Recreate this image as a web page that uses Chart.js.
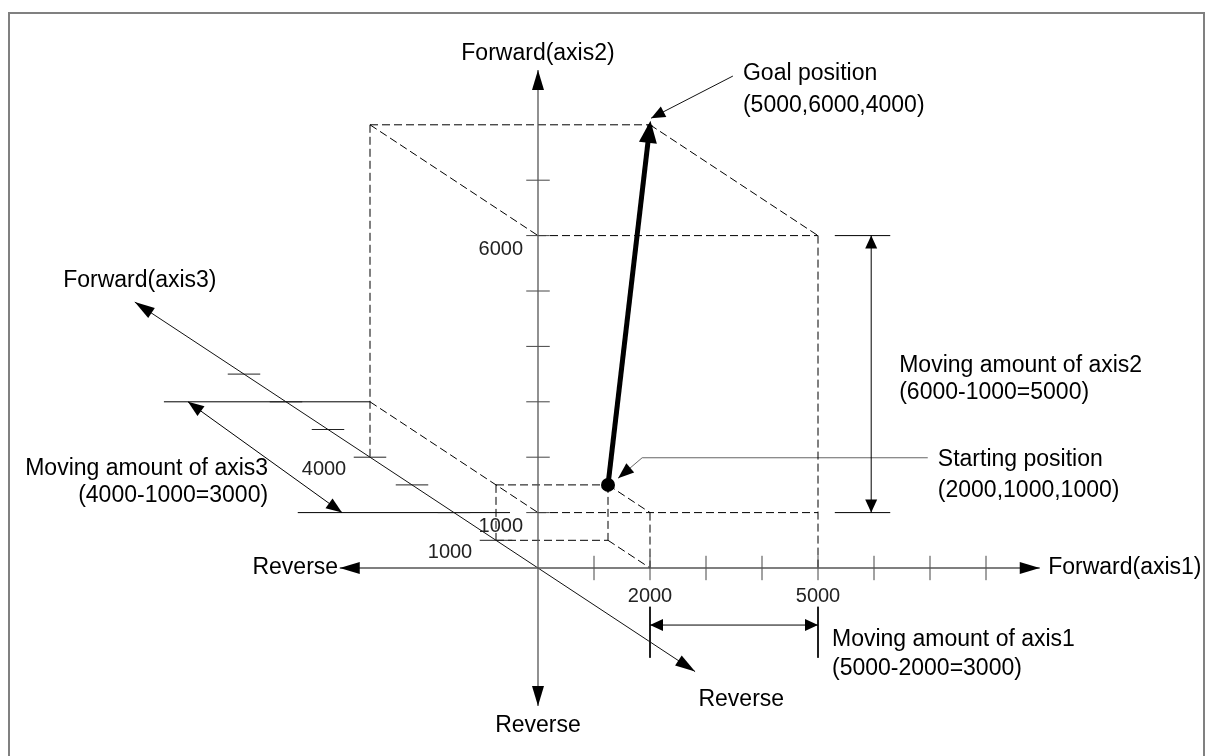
<!DOCTYPE html>
<html>
<head>
<meta charset="utf-8">
<script src="https://cdn.jsdelivr.net/npm/chart.js@4.4.1/dist/chart.umd.min.js"></script>
<style>
  html, body { margin: 0; padding: 0; background: #fff; }
  #wrap { width: 1208px; height: 756px; }
</style>
</head>
<body>
<div id="wrap"><canvas id="my-chart" width="1208" height="756"></canvas></div>
<script>
// values in position units (pulses)
const axis1Ticks = [1000, 2000, 3000, 4000, 5000, 6000, 7000, 8000];
const axis2Ticks = [1000, 2000, 3000, 4000, 5000, 6000, 7000];
const axis3Ticks = [1000, 2000, 3000, 4000, 5000, 6000, 7000];
const axis1Labels = [2000, 5000];
const axis2Labels = [1000, 6000];
const axis3Labels = [1000, 4000];
const startPos = [2000, 1000, 1000];
const goalPos = [5000, 6000, 4000];
const axis1Range = [-3540, 8960];
const axis2Range = [-2490, 8990];
const axis3Range = [-3740, 9600];

// oblique projection: axis3 goes up-left on the page
const K3X = -0.75;
const K3Y = 0.5;
function proj(a1, a2, a3) {
  return { x: (a1 + K3X * a3) / 1000, y: (a2 + K3Y * a3) / 1000 };
}

const FONT = '"Liberation Sans", Arial, sans-serif';
const datasets = [];

function seg(points, o = {}) {
  datasets.push({
    data: points,
    showLine: true,
    borderColor: o.color || "#000",
    borderWidth: o.width || 1,
    borderDash: o.dash ? [8, 4] : [],
    borderCapStyle: "butt",
    pointRadius: 0,
    headStart: o.headStart || null,
    headEnd: o.headEnd || null,
  });
}

const axisHead = { len: 20, half: 6 };
const smallHead = { len: 14, half: 6 };

// axes
seg([proj(axis1Range[0], 0, 0), proj(axis1Range[1], 0, 0)], { color: "#555", width: 1.3, headStart: axisHead, headEnd: axisHead });
seg([proj(0, axis2Range[0], 0), proj(0, axis2Range[1], 0)], { color: "#555", width: 1.3, headStart: axisHead, headEnd: axisHead });
seg([proj(0, 0, axis3Range[0]), proj(0, 0, axis3Range[1])], { color: "#111", width: 1, headStart: axisHead, headEnd: axisHead });

// ticks
axis1Ticks.forEach(t => {
  const p = proj(t, 0, 0);
  seg([{ x: p.x, y: p.y - 0.22 }, { x: p.x, y: p.y + 0.22 }], { color: "#444" });
});
axis2Ticks.forEach(t => {
  const p = proj(0, t, 0);
  seg([{ x: p.x - 0.21, y: p.y }, { x: p.x + 0.21, y: p.y }], { color: "#444" });
});
axis3Ticks.forEach(t => {
  const p = proj(0, 0, t);
  seg([{ x: p.x - 0.29, y: p.y }, { x: p.x + 0.29, y: p.y }], { color: "#222" });
});

// dashed projection box
const [S1, S2, S3] = startPos;
const [G1, G2, G3] = goalPos;
const boxEdges = [
  [[0, G2, G3], [G1, G2, G3]],
  [[0, G2, G3], [0, G2, 0]],
  [[G1, G2, G3], [G1, G2, 0]],
  [[0, G2, 0], [G1, G2, 0]],
  [[G1, G2, 0], [G1, 0, 0]],
  [[0, G2, G3], [0, 0, G3]],
  [[0, S2, G3], [0, S2, 0]],
  [[0, S2, 0], [G1, S2, 0]],
  [[0, S2, S3], [S1, S2, S3]],
  [[0, S2, S3], [0, 0, S3]],
  [[0, 0, S3], [S1, 0, S3]],
  [[S1, S2, S3], [S1, 0, S3]],
  [[S1, S2, S3], [S1, S2, 0]],
  [[S1, 0, S3], [S1, 0, 0]],
  [[S1, S2, 0], [S1, 0, 0]],
];
boxEdges.forEach(([a, b]) => seg([proj(...a), proj(...b)], { dash: true }));

// moving amount of axis2
seg([proj(5300, G2, 0), proj(6290, G2, 0)]);
seg([proj(5300, S2, 0), proj(6290, S2, 0)]);
seg([proj(5950, S2, 0), proj(5950, G2, 0)], { headStart: { len: 13, half: 6 }, headEnd: { len: 13, half: 6 } });

// moving amount of axis1
seg([proj(S1, -700, 0), proj(S1, -1620, 0)]);
seg([proj(G1, -700, 0), proj(G1, -1620, 0)]);
seg([proj(S1, -1030, 0), proj(G1, -1030, 0)], { headStart: { len: 13, half: 6 }, headEnd: { len: 13, half: 6 } });

// moving amount of axis3
seg([proj(-3680, S2, G3), proj(0, S2, G3)]);
seg([proj(-4290, S2, 0), proj(-500, S2, 0)]);
seg([proj(-3250, S2, G3), proj(-3500, S2, 0)], { headStart: { len: 16, half: 6 }, headEnd: { len: 16, half: 6 } });

// leaders
seg([{ x: 3.48, y: 8.88 }, { x: 2.02, y: 8.12 }], { color: "#111", headEnd: smallHead });
seg([{ x: 6.96, y: 1.99 }, { x: 1.86, y: 1.99 }, { x: 1.43, y: 1.62 }], { color: "#666", headEnd: { len: 16, half: 6 } });

// travel from start to goal
seg([proj(...startPos), proj(...goalPos)], { width: 5, headEnd: { len: 22, half: 9, extend: 4 } });

// start point
datasets.push({
  data: [proj(...startPos)],
  pointRadius: 7,
  pointBackgroundColor: "#000",
  pointBorderWidth: 0,
  showLine: false,
});

function drawHead(ctx, from, to, h) {
  const a = Math.atan2(to.y - from.y, to.x - from.x);
  const ext = h.extend || 0;
  ctx.save();
  ctx.translate(to.x + Math.cos(a) * ext, to.y + Math.sin(a) * ext);
  ctx.rotate(a);
  ctx.beginPath();
  ctx.moveTo(0, 0);
  ctx.lineTo(-h.len, h.half);
  ctx.lineTo(-h.len, -h.half);
  ctx.closePath();
  ctx.fillStyle = "#000";
  ctx.fill();
  ctx.restore();
}

const arrowHeads = {
  id: "arrowHeads",
  afterDatasetsDraw(chart) {
    const ctx = chart.ctx;
    chart.data.datasets.forEach((ds, i) => {
      const pts = chart.getDatasetMeta(i).data;
      if (ds.headEnd) drawHead(ctx, pts[pts.length - 2], pts[pts.length - 1], ds.headEnd);
      if (ds.headStart) drawHead(ctx, pts[1], pts[0], ds.headStart);
    });
  },
};

const notes = [
  { text: "Forward(axis2)", x: 0, y: 9.28, align: "center" },
  { text: "Goal position", x: 3.66, y: 8.92, align: "left" },
  { text: `(${goalPos.join(",")})`, x: 3.66, y: 8.34, align: "left" },
  { text: "Forward(axis3)", x: -7.11, y: 5.18, align: "center" },
  { text: "Moving amount of axis2", x: 6.45, y: 3.65, align: "left" },
  { text: `(${G2}-${S2}=${G2 - S2})`, x: 6.45, y: 3.16, align: "left" },
  { text: "Starting position", x: 7.14, y: 1.95, align: "left" },
  { text: `(${startPos.join(",")})`, x: 7.14, y: 1.39, align: "left" },
  { text: "Moving amount of axis3", x: -4.82, y: 1.79, align: "right" },
  { text: `(${G3}-${S3}=${G3 - S3})`, x: -4.82, y: 1.30, align: "right" },
  { text: "Reverse", x: -3.57, y: 0, align: "right" },
  { text: "Forward(axis1)", x: 9.11, y: 0, align: "left" },
  { text: "Moving amount of axis1", x: 5.25, y: -1.30, align: "left" },
  { text: `(${G1}-${S1}=${G1 - S1})`, x: 5.25, y: -1.81, align: "left" },
  { text: "Reverse", x: 3.63, y: -2.38, align: "center" },
  { text: "Reverse", x: 0, y: -2.85, align: "center" },
];

const textLayer = {
  id: "textLayer",
  beforeDraw(chart) {
    const ctx = chart.ctx;
    ctx.save();
    ctx.fillStyle = "#fff";
    ctx.fillRect(0, 0, chart.width, chart.height);
    ctx.strokeStyle = "#808080";
    ctx.lineWidth = 2;
    ctx.strokeRect(9, 13, 1195, 760);
    ctx.restore();
  },
  afterDraw(chart) {
    const ctx = chart.ctx;
    const sx = chart.scales.x, sy = chart.scales.y;
    const px = p => ({ x: sx.getPixelForValue(p.x), y: sy.getPixelForValue(p.y) });
    ctx.save();
    ctx.textBaseline = "middle";
    ctx.fillStyle = "#000";
    ctx.font = "23px " + FONT;
    notes.forEach(n => {
      ctx.textAlign = n.align;
      ctx.fillText(n.text, sx.getPixelForValue(n.x), sy.getPixelForValue(n.y));
    });
    ctx.font = "20px " + FONT;
    ctx.fillStyle = "#222";
    ctx.textAlign = "center";
    axis1Labels.forEach(v => {
      const p = px(proj(v, 0, 0));
      ctx.fillText(String(v), p.x, p.y + 28);
    });
    axis3Labels.forEach(v => {
      const p = px(proj(0, 0, v));
      ctx.fillText(String(v), p.x - 46, p.y + 12);
    });
    ctx.textAlign = "right";
    axis2Labels.forEach(v => {
      const p = px(proj(0, v, 0));
      ctx.fillText(String(v), p.x - 15, p.y + 14);
    });
    ctx.restore();
  },
};

new Chart(document.getElementById("my-chart"), {
  type: "scatter",
  data: { datasets: datasets },
  options: {
    responsive: false,
    animation: false,
    devicePixelRatio: 1,
    events: [],
    layout: { padding: 0, autoPadding: false },
    plugins: { legend: { display: false }, tooltip: { enabled: false } },
    scales: {
      x: { type: "linear", min: -538 / 56, max: (1208 - 538) / 56, display: false },
      y: { type: "linear", min: -(756 - 568) / 55.4, max: 568 / 55.4, display: false },
    },
  },
  plugins: [textLayer, arrowHeads],
});
</script>
</body>
</html>
